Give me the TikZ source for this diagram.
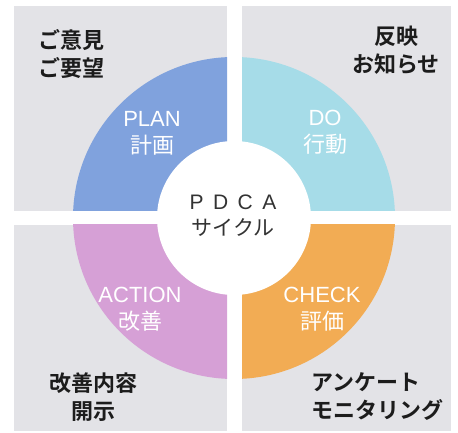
\documentclass[tikz,border=0pt]{standalone}
\usepackage{fontspec}
\setmainfont{Liberation Sans}
\newfontfamily\jp{Noto Sans CJK JP}[BoldFont={Noto Sans CJK JP Bold}]
\definecolor{quadgrey}{RGB}{227,227,231}
\definecolor{plancol}{RGB}{128,162,221}
\definecolor{docol}{RGB}{166,220,232}
\definecolor{checkcol}{RGB}{242,172,84}
\definecolor{actcol}{RGB}{214,160,214}
\definecolor{ink}{RGB}{28,28,28}
\tikzstyle{quad}=[fill=quadgrey]
\tikzstyle{stage}=[text=white, align=center, inner sep=0pt, font=\fontsize{22}{27}\selectfont]
\tikzstyle{note}=[text=ink, inner sep=0pt, font=\jp\bfseries\fontsize{22}{28}\selectfont]
\tikzstyle{hub}=[circle, fill=white, minimum size=154pt, inner sep=0pt]

\begin{document}
\begin{tikzpicture}[x=1pt,y=1pt]
\useasboundingbox (0,0) rectangle (458,433);
\coordinate (c) at (234,215);
% four grey quarters, each with its part of the ring
\begin{scope}
\clip (14,222) rectangle (227,427);
\fill[quad] (14,222) rectangle (227,427);
\fill[plancol] (c) circle (161);
\end{scope}
\begin{scope}
\clip (242,222) rectangle (451,427);
\fill[quad] (242,222) rectangle (451,427);
\fill[docol] (c) circle (161);
\end{scope}
\begin{scope}
\clip (242,2) rectangle (451,208);
\fill[quad] (242,2) rectangle (451,208);
\fill[checkcol] (c) circle (161);
\end{scope}
\begin{scope}
\clip (14,2) rectangle (227,208);
\fill[quad] (14,2) rectangle (227,208);
\fill[actcol] (c) circle (161);
\end{scope}

\draw (c) node[hub] (pdca) {};
\draw (233,217) node[align=center, text=ink!90, font=\fontsize{21}{26}\selectfont] (cycle)
  {P\hspace{0.45em}D\hspace{0.45em}C\hspace{0.45em}A\\{\jp サイクル}};

\draw (152,300) node[stage] (plan) {PLAN\\{\jp 計画}};
\draw (325,301) node[stage] (do) {DO\\{\jp 行動}};
\draw (322,124) node[stage] (check) {CHECK\\{\jp 評価}};
\draw (140,124) node[stage] (action) {ACTION\\{\jp 改善}};

\draw (71,379) node[note, align=left] (voice) {ご意見\\ご要望};
\draw (396,383) node[note, align=center] (notice) {反映\\お知らせ};
\draw (311,36) node[note, align=left, anchor=west] (survey) {アンケート\\モニタリング};
\draw (93,36) node[note, align=center] (disclose) {改善内容\\開示};
\end{tikzpicture}
\end{document}
